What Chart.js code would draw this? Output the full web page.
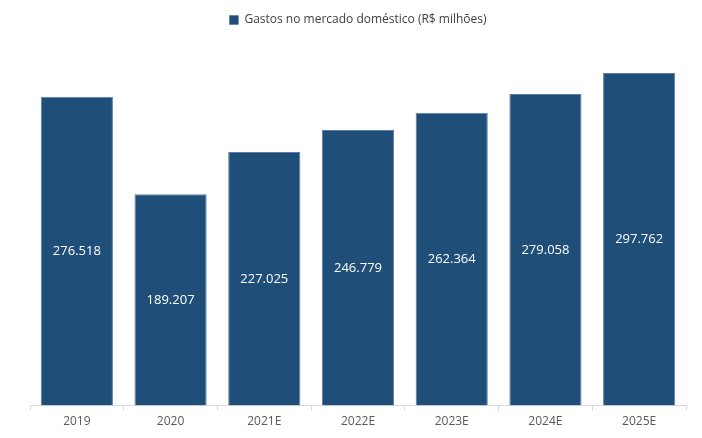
<!DOCTYPE html>
<html>
<head>
<meta charset="utf-8">
<script src="https://cdn.jsdelivr.net/npm/chart.js@4.4.1/dist/chart.umd.min.js"></script>
<style>
  html, body { margin: 0; padding: 0; background: #ffffff; }
  #wrap { width: 702px; height: 438px; position: relative; }
</style>
</head>
<body>
<div id="wrap"><canvas id="c"></canvas></div>
<script>
// Gastos no mercado doméstico (R$ milhões)
const categories = ['2019', '2020', '2021E', '2022E', '2023E', '2024E', '2025E'];
const gastos = [276.518, 189.207, 227.025, 246.779, 262.364, 279.058, 297.762];
const seriesName = 'Gastos no mercado doméstico (R$ milhões)';

const fontFamily = "'Open Sans', 'Noto Sans', sans-serif";

// Value labels centred inside each bar
const barLabels = {
  id: 'barLabels',
  afterDatasetsDraw(chart) {
    const ctx = chart.ctx;
    const meta = chart.getDatasetMeta(0);
    ctx.save();
    ctx.fillStyle = '#ffffff';
    ctx.font = '13px ' + fontFamily;
    ctx.textAlign = 'center';
    ctx.textBaseline = 'middle';
    meta.data.forEach((bar, i) => {
      const v = chart.data.datasets[0].data[i];
      const y = (bar.y + bar.base) / 2;
      ctx.fillText(v.toFixed(3), bar.x, y);
    });
    ctx.restore();
  }
};

new Chart(document.getElementById('c'), {
  type: 'bar',
  data: {
    labels: categories,
    datasets: [{
      label: seriesName,
      data: gastos,
      backgroundColor: '#1F4E79',
      borderColor: '#5B7FA6',
      borderWidth: { left: 1, right: 1, top: 1, bottom: 0 },
      barPercentage: 0.77,
      categoryPercentage: 1.0
    }]
  },
  options: {
    responsive: true,
    maintainAspectRatio: false,
    animation: false,
    layout: { padding: { left: 30, right: 16, top: 4, bottom: 5 } },
    plugins: {
      legend: {
        position: 'top',
        labels: {
          boxWidth: 9,
          boxHeight: 9,
          padding: 10,
          color: '#404040',
          font: { family: fontFamily, size: 12 }
        }
      },
      tooltip: { enabled: false }
    },
    scales: {
      x: {
        offset: true,
        grid: {
          display: true,
          offset: true,
          drawOnChartArea: false,
          drawTicks: true,
          tickLength: 5,
          color: '#D9D9D9'
        },
        border: { display: true, color: '#D9D9D9' },
        ticks: {
          color: '#595959',
          padding: 4,
          font: { family: fontFamily, size: 12 }
        }
      },
      y: {
        display: false,
        min: 0,
        max: 331
      }
    }
  },
  plugins: [barLabels]
});
</script>
</body>
</html>
